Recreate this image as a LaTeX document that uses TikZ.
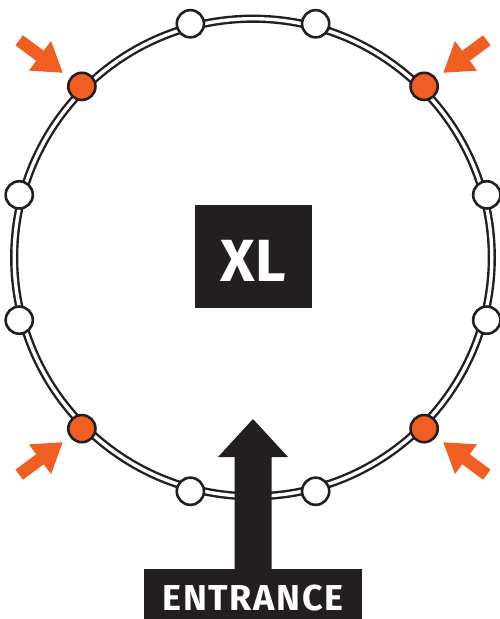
\documentclass[tikz,border=0pt]{standalone}
\usepackage{fontspec}
\setmainfont{Fira Sans}
\newfontfamily\entfont[LetterSpace=4.5]{Fira Sans}
\definecolor{blk}{RGB}{35,31,32}
\definecolor{oran}{RGB}{241,94,34}
\tikzset{
  ring/.style={draw=blk, line width=2.4pt, double=white, double distance=3.4pt},
  wnode/.style={circle, draw=blk, fill=white, line width=2.6pt, minimum size=27.2pt, inner sep=0pt},
  onode/.style={wnode, fill=oran},
  blackbox/.style={fill=blk, text=white, inner sep=0pt, font=\bfseries},
  oarrow/.style={fill=oran}
}
\begin{document}
\begin{tikzpicture}[x=1pt,y=-1pt]
\useasboundingbox (0,0) rectangle (499,619);
\fill[white] (0,0) rectangle (499,619);
\coordinate (c) at (253,257.5);
% ring
\draw[ring] (c) circle[radius=238.8];
% seats
\foreach \a/\s [count=\i] in {15/wnode,45/onode,75/wnode,105/wnode,135/onode,165/wnode,195/wnode,225/onode,255/wnode,285/wnode,315/onode,345/wnode}
  \node[\s] (n\i) at ([shift={(\a:242)}]c) {};
% orange arrows
\begin{scope}[shift={(62.7,72.7)}]
  \fill[oarrow] (0,0) -- (-33.77,-2.07) -- (-26.45,-11.90) -- (-47.24,-27.38) -- (-39.76,-37.42) -- (-18.97,-21.94) -- (-11.65,-31.77) -- cycle;
\end{scope}
\begin{scope}[shift={(443.3,72.7)},xscale=-1]
  \fill[oarrow] (0,0) -- (-33.77,-2.07) -- (-26.45,-11.90) -- (-47.24,-27.38) -- (-39.76,-37.42) -- (-18.97,-21.94) -- (-11.65,-31.77) -- cycle;
\end{scope}
\begin{scope}[shift={(62.7,442.3)},yscale=-1]
  \fill[oarrow] (0,0) -- (-33.77,-2.07) -- (-26.45,-11.90) -- (-47.24,-27.38) -- (-39.76,-37.42) -- (-18.97,-21.94) -- (-11.65,-31.77) -- cycle;
\end{scope}
\begin{scope}[shift={(443.3,442.3)},xscale=-1,yscale=-1]
  \fill[oarrow] (0,0) -- (-33.77,-2.07) -- (-26.45,-11.90) -- (-47.24,-27.38) -- (-39.76,-37.42) -- (-18.97,-21.94) -- (-11.65,-31.77) -- cycle;
\end{scope}
% XL box
\node[blackbox, minimum width=117pt, minimum height=103pt, text height=49pt, text depth=0pt,
      font=\bfseries\fontsize{59.5}{60}\selectfont] (xl) at (253.5,256.5) {XL};
% entrance box
\node[blackbox, minimum width=218pt, minimum height=57pt, text height=25pt, text depth=0pt,
      font=\entfont\bfseries\fontsize{36}{38}\selectfont] (ent) at (253,597.5) {ENTRANCE};
% entrance arrow
\coordinate (tip) at (253,419);
\fill[blk] ([xshift=-18.5pt,yshift=-1pt]ent.north) -- ([xshift=-18.5pt,yshift=-38pt]tip)
  -- ([xshift=-35pt,yshift=-38pt]tip) -- (tip) -- ([xshift=35pt,yshift=-38pt]tip)
  -- ([xshift=18.5pt,yshift=-38pt]tip) -- ([xshift=18.5pt,yshift=-1pt]ent.north) -- cycle;
\end{tikzpicture}
\end{document}
